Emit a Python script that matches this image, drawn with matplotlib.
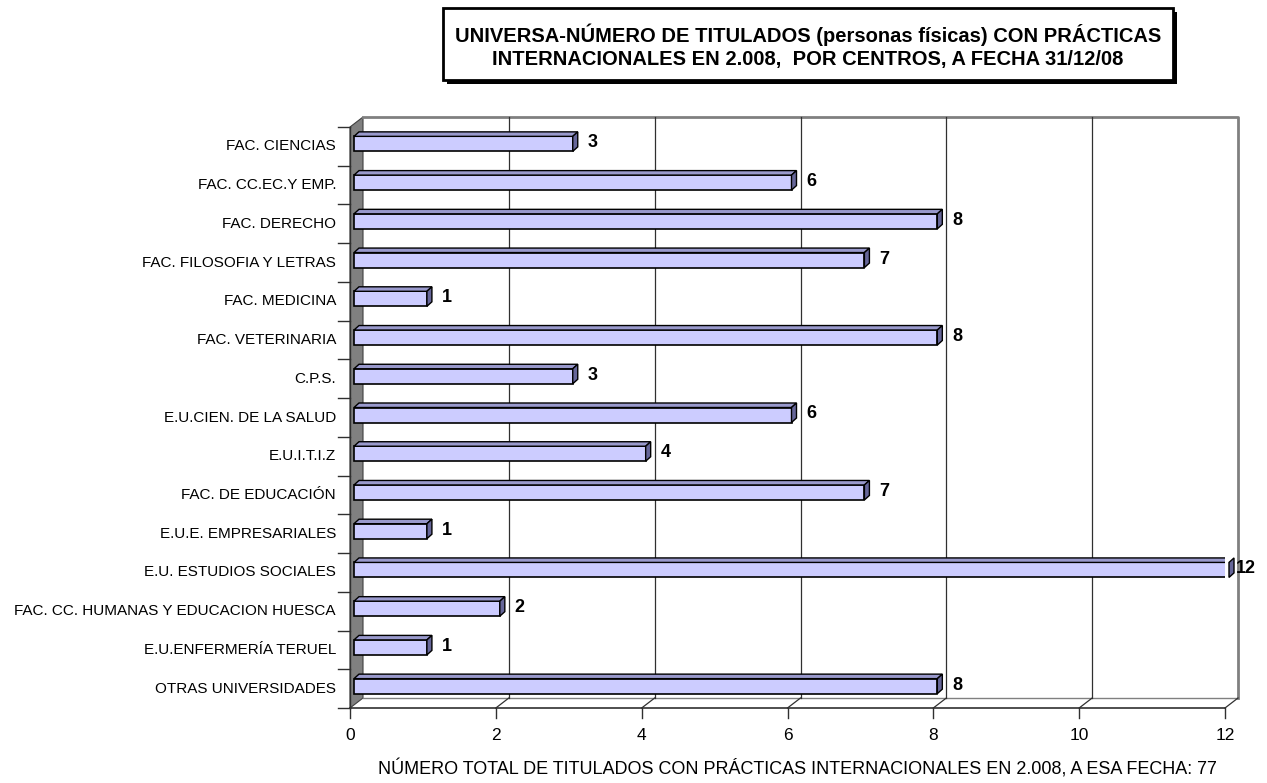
import matplotlib.pyplot as plt
from matplotlib.patches import Polygon, Rectangle
import numpy as np

plt.rcParams['font.family'] = ['Liberation Sans', 'DejaVu Sans']

centros = ["FAC. CIENCIAS", "FAC. CC.EC.Y EMP.", "FAC. DERECHO", "FAC. FILOSOFIA Y LETRAS",
           "FAC. MEDICINA", "FAC. VETERINARIA", "C.P.S.", "E.U.CIEN. DE LA SALUD",
           "E.U.I.T.I.Z", "FAC. DE EDUCACIÓN", "E.U.E. EMPRESARIALES", "E.U. ESTUDIOS SOCIALES",
           "FAC. CC. HUMANAS Y EDUCACION HUESCA", "E.U.ENFERMERÍA TERUEL", "OTRAS UNIVERSIDADES"]
titulados = [3, 6, 8, 7, 1, 8, 3, 6, 4, 7, 1, 12, 2, 1, 8]
xticks = [0, 2, 4, 6, 8, 10, 12]

titulo = ("UNIVERSA-NÚMERO DE TITULADOS (personas físicas) CON PRÁCTICAS\n"
          "INTERNACIONALES EN 2.008,  POR CENTROS, A FECHA 31/12/08")
pie = "NÚMERO TOTAL DE TITULADOS CON PRÁCTICAS INTERNACIONALES EN 2.008, A ESA FECHA: 77"

W, H = 1267, 783
fig = plt.figure(figsize=(W / 100, H / 100), dpi=100)

# front plane of the 3D box in pixels
x0, x1, ytop, ybot = 350, 1225, 127, 708
ax = fig.add_axes([x0 / W, 1 - ybot / H, (x1 - x0) / W, (ybot - ytop) / H])
n = len(centros)
ax.set_xlim(0, 12)
ax.set_ylim(n - 0.5, -0.5)

# depth offsets in data units
px_x = 12 / (x1 - x0)
px_y = n / (ybot - ytop)
dx, dy = 13 * px_x, -10 * px_y

for s in ax.spines.values():
    s.set_visible(False)
ax.set_xticks([])
ax.set_yticks([])

top, bot = -0.5, n - 0.5

# left wall
ax.add_patch(Polygon([(0, top), (dx, top + dy), (dx, bot + dy), (0, bot)],
                     closed=True, fc='#808080', ec='#404040', lw=0.8, clip_on=False, zorder=1))
# back wall frame
ax.plot([dx, 12 + dx, 12 + dx], [top + dy, top + dy, bot + dy], color='#808080', lw=2,
        clip_on=False, zorder=1)
ax.plot([dx, 12 + dx], [bot + dy, bot + dy], color='#808080', lw=1, clip_on=False, zorder=1)
# gridlines on back wall + floor diagonals
for t in xticks[1:]:
    if t < 12:
        ax.plot([t + dx, t + dx], [top + dy, bot + dy], color='#303030', lw=0.9,
                clip_on=False, zorder=1)
    ax.plot([t, t + dx], [bot, bot + dy], color='#303030', lw=0.9, clip_on=False, zorder=1)
# front x axis and ticks
ax.plot([0, 12], [bot, bot], color='#303030', lw=1.2, clip_on=False, zorder=3)
for t in xticks:
    ax.plot([t, t], [bot, bot + 10 * px_y], color='#303030', lw=1, clip_on=False, zorder=3)
    ax.text(t, bot + 27 * px_y, str(t), ha='center', va='center', fontsize=12.5)
# left axis ticks
for k in range(n + 1):
    ax.plot([-12 * px_x, 0], [k - 0.5, k - 0.5], color='#303030', lw=1, clip_on=False, zorder=3)
ax.plot([0, 0], [top, bot], color='#303030', lw=1, clip_on=False, zorder=3)

# bars
h = 15 * px_y
bx, by = 4 * px_x, -2.5 * px_y
ddx, ddy = 5 * px_x, -4.5 * px_y
for i, (lab, v) in enumerate(zip(centros, titulados)):
    yc = i + by
    y_hi, y_lo = yc - h / 2, yc + h / 2
    ax.add_patch(Rectangle((bx, y_hi), v, h, fc='#CCCCFF', ec='black', lw=1.2, zorder=4))
    ax.add_patch(Polygon([(bx, y_hi), (bx + v, y_hi), (bx + v + ddx, y_hi + ddy), (bx + ddx, y_hi + ddy)],
                         closed=True, fc='#9999CC', ec='black', lw=1.0, zorder=4))
    ax.add_patch(Polygon([(bx + v, y_hi), (bx + v + ddx, y_hi + ddy), (bx + v + ddx, y_lo + ddy), (bx + v, y_lo)],
                         closed=True, fc='#666699', ec='black', lw=1.0, zorder=4, clip_on=False))
    off = 7 if v < 12 else 1
    ax.annotate(str(v), (bx + v + ddx, yc - 1 * px_y), xytext=(off, 0), textcoords='offset points',
                ha='left', va='center', fontsize=13, fontweight='bold', annotation_clip=False)
    ax.text(-14 * px_x, i + 0.0, lab, ha='right', va='center', fontsize=11)

# title box with shadow
bx0, by0, bx1, by1 = 443, 8, 1173, 80
fig.patches.append(Rectangle(((bx0 + 4) / W, 1 - (by1 + 4) / H), (bx1 - bx0) / W, (by1 - by0) / H,
                             transform=fig.transFigure, fc='black', ec='black', lw=0))
fig.patches.append(Rectangle((bx0 / W, 1 - by1 / H), (bx1 - bx0) / W, (by1 - by0) / H,
                             transform=fig.transFigure, fc='white', ec='black', lw=2))
fig.text((bx0 + bx1) / 2 / W, 1 - 46 / H, titulo, ha='center', va='center', fontsize=14.5,
         fontweight='bold', linespacing=1.25)

fig.text(797 / W, 1 - 769 / H, pie, ha='center', va='center', fontsize=13)

fig.savefig('out.png', dpi=100)
